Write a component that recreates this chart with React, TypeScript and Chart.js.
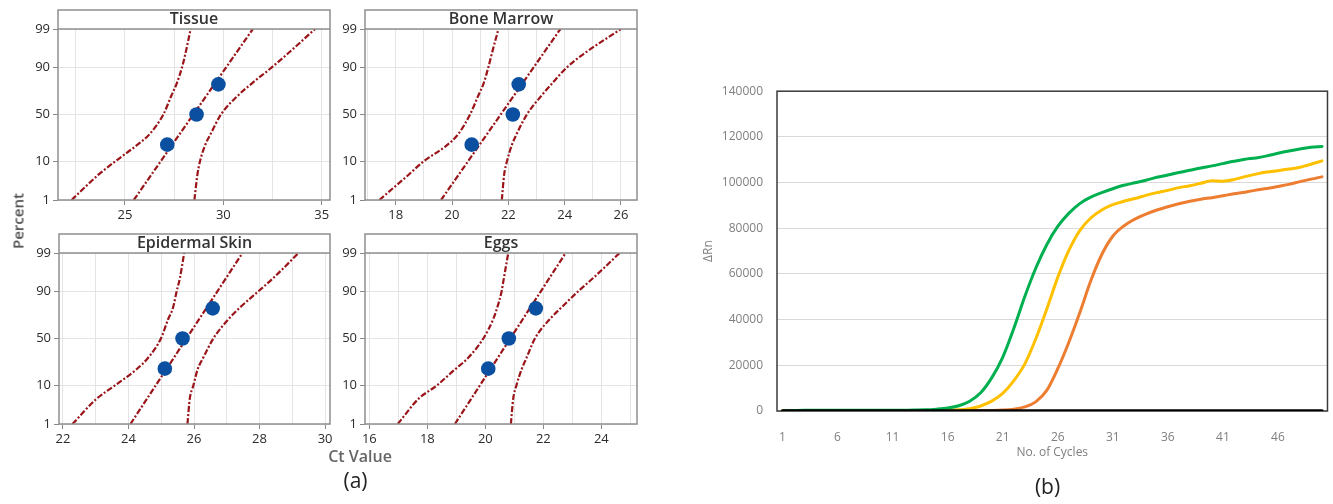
import React, { useEffect, useRef } from 'react';
import { Chart, registerables } from 'chart.js';
Chart.register(...registerables);

// ---------- (a) probability plots ----------
const percentTicks = [1, 10, 50, 90, 99];
const bandLevels = [1, 5, 10, 20, 30, 50, 70, 80, 90, 95, 99];
const pointPercents = [20.6, 50, 79.4];
const fitLevels = [1, 99];
const panelNames = ['Tissue', 'Bone Marrow', 'Epidermal Skin', 'Eggs'];

const tissuePoints = [27.15, 28.64, 29.75];
const tissueFit = [25.45, 31.5];
const tissueLeft = [22.29, 23.64, 24.49, 25.59, 26.27, 26.95, 27.37, 27.63, 27.9, 28.07, 28.34];
const tissueRight = [28.53, 28.68, 28.81, 29.07, 29.36, 29.88, 30.76, 31.44, 32.46, 33.25, 34.66];

const marrowPoints = [20.7, 22.16, 22.37];
const marrowFit = [19.61, 23.85];
const marrowLeft = [17.42, 18.45, 18.98, 19.81, 20.23, 20.64, 20.94, 21.12, 21.29, 21.41, 21.65];
const marrowRight = [21.77, 21.85, 21.95, 22.12, 22.3, 22.66, 23.19, 23.55, 24.08, 24.67, 26.0];

const skinPoints = [25.11, 25.65, 26.57];
const skinFit = [24.06, 27.48];
const skinLeft = [22.29, 23.02, 23.58, 24.24, 24.6, 24.99, 25.21, 25.36, 25.47, 25.57, 25.7];
const skinRight = [25.8, 25.87, 25.98, 26.11, 26.28, 26.59, 27.05, 27.4, 27.96, 28.42, 29.19];

const eggsPoints = [20.1, 20.81, 21.74];
const eggsFit = [18.95, 22.77];
const eggsLeft = [16.98, 17.69, 18.32, 18.95, 19.41, 19.93, 20.27, 20.41, 20.56, 20.64, 20.79];
const eggsRight = [20.88, 20.96, 21.07, 21.25, 21.42, 21.71, 22.22, 22.62, 23.2, 23.72, 24.63];

// ---------- (b) amplification plot ----------
const cycleLabels = ['1','2','3','4','5','6','7','8','9','10','11','12','13','14','15','16','17','18','19','20','21','22','23','24','25','26','27','28','29','30','31','32','33','34','35','36','37','38','39','40','41','42','43','44','45','46','47','48','49','50'];
const shownCycleTicks = ['1', '6', '11', '16', '21', '26', '31', '36', '41', '46'];
const greenSeries = [0, 200, 300, 300, 300, 300, 300, 300, 300, 300, 300, 350, 400, 500, 800, 1300, 2300, 4300, 8000, 14500, 23500, 36000, 50000, 62500, 72800, 80800, 86500, 90800, 93600, 95600, 97300, 98800, 99900, 101000, 102300, 103300, 104400, 105400, 106400, 107300, 108300, 109300, 110200, 110800, 111700, 112800, 113800, 114700, 115500, 115800];
const yellowSeries = [0, 150, 200, 200, 200, 200, 200, 200, 200, 200, 200, 200, 200, 200, 250, 350, 550, 1000, 2200, 4300, 7700, 13200, 20500, 31500, 44500, 58500, 70200, 79000, 84500, 88000, 90300, 91800, 93000, 94400, 95600, 96600, 97800, 98600, 99700, 100800, 100600, 101300, 102600, 103700, 104600, 105200, 105900, 106700, 108000, 109500];
const orangeSeries = [0, 100, 150, 150, 150, 150, 150, 150, 150, 150, 150, 150, 150, 150, 150, 150, 150, 150, 200, 250, 400, 800, 1800, 4000, 9000, 18500, 30000, 43000, 57000, 68500, 76500, 81000, 84000, 86200, 88000, 89400, 90700, 91800, 92700, 93400, 94200, 95100, 95800, 96700, 97400, 98300, 99200, 100400, 101500, 102500];
const ntcSeries = [0, 0, 0, 0, 0, 0, 0, 0, 0, 0, 0, 0, 0, 0, 0, 0, 0, 0, 0, 0, 0, 0, 0, 0, 0, 0, 0, 0, 0, 0, 0, 0, 0, 0, 0, 0, 0, 0, 0, 0, 0, 0, 0, 0, 0, 0, 0, 0, 0, 0];

// inverse standard normal CDF (probability-paper axis transform)
function probit(p: number): number {
  const a = [-3.969683028665376e1, 2.209460984245205e2, -2.759285104469687e2, 1.38357751867269e2, -3.066479806614716e1, 2.506628277459239];
  const b = [-5.447609879822406e1, 1.615858368580409e2, -1.556989798598866e2, 6.680131188771972e1, -1.328068155288572e1];
  const c = [-7.784894002430293e-3, -3.223964580411365e-1, -2.400758277161838, -2.549732539343734, 4.374664141464968, 2.938163982698783];
  const d = [7.784695709041462e-3, 3.224671290700398e-1, 2.445134137142996, 3.754408661907416];
  const pl = 0.02425;
  if (p < pl) {
    const q = Math.sqrt(-2 * Math.log(p));
    return (((((c[0] * q + c[1]) * q + c[2]) * q + c[3]) * q + c[4]) * q + c[5]) / ((((d[0] * q + d[1]) * q + d[2]) * q + d[3]) * q + 1);
  }
  if (p <= 1 - pl) {
    const q = p - 0.5;
    const r = q * q;
    return ((((((a[0] * r + a[1]) * r + a[2]) * r + a[3]) * r + a[4]) * r + a[5]) * q) / (((((b[0] * r + b[1]) * r + b[2]) * r + b[3]) * r + b[4]) * r + 1);
  }
  const q = Math.sqrt(-2 * Math.log(1 - p));
  return -(((((c[0] * q + c[1]) * q + c[2]) * q + c[3]) * q + c[4]) * q + c[5]) / ((((d[0] * q + d[1]) * q + d[2]) * q + d[3]) * q + 1);
}

const FONT = "'Open Sans', 'Noto Sans', sans-serif";
const RED = '#9a1519';
const BLUE = '#0a4fa0';
const DASH = [6, 2, 2, 2];
const STRIP = 19;
const Y_AXIS_W = 44;
const X_AXIS_H = 30;
const PAD_TOP = 2;
const PAD_RIGHT = 12;

const panelData = [
  { points: tissuePoints, fit: tissueFit, left: tissueLeft, right: tissueRight, xMin: 21.6, xMax: 35.42, step: 2.5, major: 5 },
  { points: marrowPoints, fit: marrowFit, left: marrowLeft, right: marrowRight, xMin: 16.91, xMax: 26.57, step: 1, major: 2 },
  { points: skinPoints, fit: skinFit, left: skinLeft, right: skinRight, xMin: 21.88, xMax: 30.15, step: 1, major: 2 },
  { points: eggsPoints, fit: eggsFit, left: eggsLeft, right: eggsRight, xMin: 15.85, xMax: 25.23, step: 1, major: 2 },
];
const panelBoxes = [
  { left: 58, right: 330, top: 29, bottom: 200 },
  { left: 365, right: 637, top: 29, bottom: 200 },
  { left: 59, right: 330, top: 253, bottom: 424 },
  { left: 365, right: 637, top: 253, bottom: 424 },
];

const panelFrame = {
  id: 'panelFrame',
  afterDraw(chart: any) {
    const { ctx, chartArea } = chart;
    const { left, right, top, bottom } = chartArea;
    ctx.save();
    ctx.strokeStyle = '#8f8f8f';
    ctx.lineWidth = 1.5;
    ctx.strokeRect(left, top - STRIP, right - left, bottom - top + STRIP);
    ctx.beginPath();
    ctx.moveTo(left, top);
    ctx.lineTo(right, top);
    ctx.stroke();
    ctx.restore();
  },
};

const plotFrame = {
  id: 'plotFrame',
  beforeDatasetsDraw(chart: any) {
    const { ctx, chartArea } = chart;
    const { left, right, top, bottom } = chartArea;
    ctx.save();
    ctx.strokeStyle = '#3a3a3a';
    ctx.lineWidth = 1.5;
    ctx.strokeRect(left, top, right - left, bottom - top);
    ctx.restore();
  },
};

function isMajor(v: number, major: number) {
  const r = v / major;
  return Math.abs(r - Math.round(r)) < 1e-6;
}

function panelConfig(i: number) {
  const pd = panelData[i];
  const toXY = (xs: number[], ps: number[]) => xs.map((x, k) => ({ x, y: probit(ps[k] / 100) }));
  const lineStyle = {
    type: 'line' as const,
    borderColor: RED,
    borderWidth: 2.2,
    borderDash: DASH,
    pointRadius: 0,
    fill: false,
    order: 1,
  };
  return {
    type: 'scatter',
    data: {
      datasets: [
        { type: 'scatter', data: toXY(pd.points, pointPercents), pointRadius: 7.3, pointHoverRadius: 7.3, backgroundColor: BLUE, borderWidth: 0, order: 0 },
        { ...lineStyle, data: toXY(pd.fit, fitLevels) },
        { ...lineStyle, data: toXY(pd.left, bandLevels), cubicInterpolationMode: 'monotone' },
        { ...lineStyle, data: toXY(pd.right, bandLevels), cubicInterpolationMode: 'monotone' },
      ],
    },
    options: {
      responsive: false,
      animation: false,
      events: [],
      layout: { padding: { top: PAD_TOP, right: PAD_RIGHT, left: 0, bottom: 0 } },
      plugins: {
        legend: { display: false },
        tooltip: { enabled: false },
        title: {
          display: true,
          text: panelNames[i],
          fullSize: false,
          color: '#333',
          font: { family: FONT, size: 16, weight: '600', lineHeight: '19px' },
          padding: { top: 0, bottom: 0 },
        },
      },
      scales: {
        x: {
          type: 'linear',
          min: pd.xMin,
          max: pd.xMax,
          afterFit: (s: any) => { s.height = X_AXIS_H; },
          border: { display: false },
          grid: {
            color: '#e4e4e4',
            tickLength: 5,
            tickColor: (ctx: any) => (ctx.tick && isMajor(ctx.tick.value, pd.major) ? '#888' : 'rgba(0,0,0,0)'),
          },
          ticks: {
            stepSize: pd.step,
            includeBounds: false,
            autoSkip: false,
            maxRotation: 0,
            padding: 2,
            color: '#2b2b2b',
            font: { family: FONT, size: 13 },
            callback: (v: number) => (isMajor(v, pd.major) ? String(Math.round(v)) : ''),
          },
        },
        y: {
          type: 'linear',
          min: probit(0.01),
          max: probit(0.99),
          afterFit: (s: any) => { s.width = Y_AXIS_W; },
          afterBuildTicks: (s: any) => { s.ticks = percentTicks.map((p) => ({ value: probit(p / 100) })); },
          border: { display: false },
          grid: { color: '#e4e4e4', tickLength: 5, tickColor: '#888' },
          ticks: {
            padding: 3,
            color: '#2b2b2b',
            font: { family: FONT, size: 13 },
            callback: (_v: number, idx: number) => String(percentTicks[idx]),
          },
        },
      },
    },
    plugins: [panelFrame],
  };
}

function ampConfig() {
  const line = (data: number[], color: string, order: number, width: number) => ({
    data,
    borderColor: color,
    backgroundColor: color,
    borderWidth: width,
    pointRadius: 0,
    cubicInterpolationMode: 'monotone' as const,
    fill: false,
    order,
    borderJoinStyle: 'round' as const,
    borderCapStyle: 'round' as const,
  });
  return {
    type: 'line',
    data: {
      labels: cycleLabels,
      datasets: [
        line(ntcSeries, '#000000', 0, 3.5),
        line(greenSeries, '#00b050', 1, 3),
        line(yellowSeries, '#ffc000', 1, 3),
        line(orangeSeries, '#ed7d31', 1, 3),
      ],
    },
    options: {
      responsive: false,
      animation: false,
      events: [],
      layout: { padding: { top: 15, right: 2, left: 0, bottom: 0 } },
      plugins: { legend: { display: false }, tooltip: { enabled: false } },
      scales: {
        x: {
          type: 'category',
          offset: true,
          afterFit: (s: any) => { s.height = 63; },
          grid: { display: false },
          border: { display: false },
          title: {
            display: true,
            text: 'No. of Cycles',
            color: '#7f7f7f',
            font: { family: FONT, size: 12 },
            padding: { top: 0, bottom: 14 },
          },
          ticks: {
            autoSkip: false,
            maxRotation: 0,
            padding: 11,
            color: '#7f7f7f',
            font: { family: FONT, size: 12 },
            callback: (_v: any, idx: number) => (shownCycleTicks.includes(cycleLabels[idx]) ? cycleLabels[idx] : ''),
          },
        },
        y: {
          min: 0,
          max: 140000,
          afterFit: (s: any) => { s.width = 87; },
          border: { display: false },
          grid: { color: '#d9d9d9', drawTicks: false },
          title: {
            display: true,
            text: 'ΔRn',
            color: '#7f7f7f',
            font: { family: FONT, size: 12 },
            padding: { top: 11, bottom: 0 },
          },
          ticks: {
            stepSize: 20000,
            padding: 14,
            color: '#7f7f7f',
            font: { family: FONT, size: 12 },
            callback: (v: number) => String(v),
          },
        },
      },
    },
    plugins: [plotFrame],
  };
}

function ChartBox(props: { make: () => any; left: number; top: number; width: number; height: number }) {
  const ref = useRef<HTMLCanvasElement>(null);
  useEffect(() => {
    if (!ref.current) return;
    const chart = new Chart(ref.current, props.make());
    return () => chart.destroy();
  }, []);
  const { left, top, width, height } = props;
  return (
    <canvas
      ref={ref}
      width={width}
      height={height}
      style={{ position: 'absolute', left, top, width, height }}
    />
  );
}

function Label(props: { text: string; x: number; y: number; size: number; color: string; weight?: number; rotate?: boolean }) {
  const { text, x, y, size, color, weight, rotate } = props;
  return (
    <div
      style={{
        position: 'absolute',
        left: x,
        top: y,
        transform: `translate(-50%, -50%)${rotate ? ' rotate(-90deg)' : ''}`,
        fontFamily: FONT,
        fontSize: size,
        fontWeight: weight ?? 400,
        color,
        lineHeight: 1,
        whiteSpace: 'nowrap',
      }}
    >
      {text}
    </div>
  );
}

export default function App() {
  return (
    <div style={{ position: 'fixed', left: 0, top: 0, width: 1333, height: 504, background: '#fff', overflow: 'hidden' }}>
      {panelBoxes.map((b, i) => {
        const cLeft = b.left - Y_AXIS_W;
        const cTop = b.top - STRIP - PAD_TOP;
        return (
          <ChartBox
            key={i}
            make={() => panelConfig(i)}
            left={cLeft}
            top={cTop}
            width={b.right + PAD_RIGHT - cLeft}
            height={b.bottom - cTop + X_AXIS_H}
          />
        );
      })}
      <ChartBox make={ampConfig} left={690} top={70} width={643} height={404} />
      <Label text="Percent" x={17.5} y={221} size={15} color="#505050" weight={600} rotate />
      <Label text="Ct Value" x={360} y={456} size={16} color="#666" weight={600} />
      <Label text="(a)" x={355.5} y={480} size={21} color="#222" />
      <Label text="(b)" x={1047.5} y={486} size={21} color="#222" />
    </div>
  );
}
